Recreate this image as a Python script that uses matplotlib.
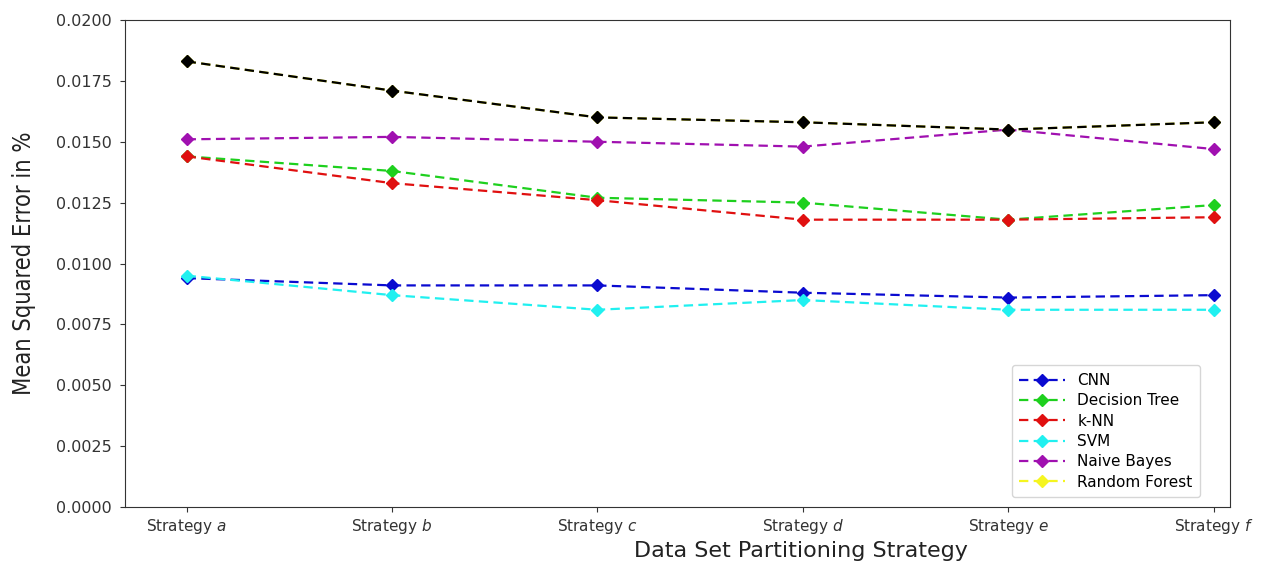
import numpy as np
import matplotlib
matplotlib.use("Agg")
import matplotlib.pyplot as plt

strategies = ['Strategy $a$', 'Strategy $b$', 'Strategy $c$',
              'Strategy $d$', 'Strategy $e$', 'Strategy $f$']

# mean squared error per partitioning strategy
cnn = [0.0094, 0.0091, 0.0091, 0.0088, 0.0086, 0.0087]
decision_tree = [0.0144, 0.0138, 0.0127, 0.0125, 0.0118, 0.0124]
knn = [0.0144, 0.0133, 0.0126, 0.0118, 0.0118, 0.0119]
svm = [0.0095, 0.0087, 0.0081, 0.0085, 0.0081, 0.0081]
naive_bayes = [0.0151, 0.0152, 0.0150, 0.0148, 0.0155, 0.0147]
random_forest = [0.0183, 0.0171, 0.0160, 0.0158, 0.0155, 0.0158]

x = np.arange(len(strategies))

fig = plt.figure(figsize=(12.62, 5.62), dpi=100)
ax = fig.add_axes([125/1262, 55/562, 1105/1262, 487/562])

kw = dict(dashes=(4.2, 2.4), marker='D', markersize=6.5, linewidth=1.6)
ax.plot(x, cnn, color='#0a0ad0', label='CNN', **kw)
ax.plot(x, decision_tree, color='#1ed01e', label='Decision Tree', **kw)
ax.plot(x, knn, color='#e01010', label='k-NN', **kw)
ax.plot(x, svm, color='#20f0f0', label='SVM', **kw)
ax.plot(x, naive_bayes, color='#a010b0', label='Naive Bayes', **kw)
ax.plot(x, random_forest, color='#f5f520', label='Random Forest', **kw)
ax.plot(x, random_forest, color='black', label='_nolegend_', **kw)

ax.set_xlim(-0.3, 5.08)
ax.set_ylim(0, 0.02)
ax.set_yticks(np.arange(0, 0.0201, 0.0025))
ax.yaxis.set_major_formatter(matplotlib.ticker.FormatStrFormatter('%.4f'))
ax.set_xticks(x)
ax.set_xticklabels(strategies)
ax.tick_params(labelsize=11.5, colors='#333333', pad=6)
ax.tick_params(axis='x', labelsize=11, pad=4)
for s in ax.spines.values():
    s.set_color('#333333')

ax.set_xlabel('Data Set Partitioning Strategy', fontsize=16, color='#222222')
ax.xaxis.set_label_coords(0.612, -0.07)
ax.set_ylabel('Mean Squared Error in %', fontsize=17, color='#222222',
              family='DejaVu Sans', stretch='condensed', labelpad=14)

ax.legend(loc='lower right', fontsize=11, borderpad=0.5, labelspacing=0.35,
          handlelength=3.0, borderaxespad=0, bbox_to_anchor=(0.973, 0.02))

fig.savefig('out.png', dpi=100)
